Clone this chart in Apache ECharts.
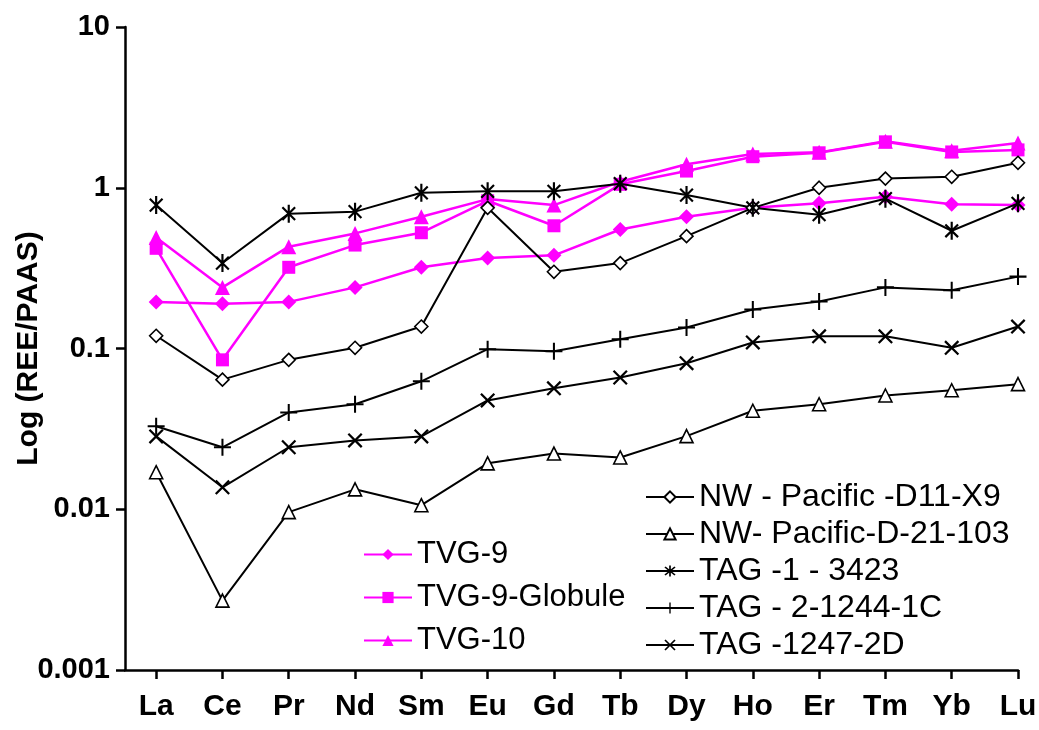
<!DOCTYPE html>
<html>
<head>
<meta charset="utf-8">
<script src="https://cdn.jsdelivr.net/npm/echarts@6/dist/echarts.min.js"></script>
<style>
html, body { margin: 0; padding: 0; background: #fff; }
#container { width: 1039px; height: 730px; }
</style>
</head>
<body>
<div id="container"></div>
<script>
// REE elements on the x axis
var elements = ['La', 'Ce', 'Pr', 'Nd', 'Sm', 'Eu', 'Gd', 'Tb', 'Dy', 'Ho', 'Er', 'Tm', 'Yb', 'Lu'];
var yTicks = [0.001, 0.01, 0.1, 1, 10];

// REE/PAAS values
var tvg9        = [0.195, 0.19, 0.195, 0.24, 0.32, 0.365, 0.38, 0.55, 0.66, 0.75, 0.80, 0.88, 0.79, 0.78];
var tvg9Globule = [0.42, 0.085, 0.32, 0.44, 0.525, 0.83, 0.58, 1.05, 1.27, 1.56, 1.65, 1.93, 1.67, 1.72];
var tvg10       = [0.49, 0.24, 0.43, 0.52, 0.66, 0.85, 0.78, 1.09, 1.40, 1.62, 1.66, 1.95, 1.70, 1.90];
var nwD11X9     = [0.12, 0.064, 0.085, 0.101, 0.137, 0.75, 0.30, 0.34, 0.50, 0.75, 1.0, 1.14, 1.17, 1.43];
var nwD21103    = [0.017, 0.0027, 0.0096, 0.0133, 0.0106, 0.0193, 0.0222, 0.021, 0.0285, 0.041, 0.045, 0.051, 0.055, 0.060];
var tag13423    = [0.78, 0.34, 0.69, 0.71, 0.93, 0.95, 0.95, 1.06, 0.90, 0.75, 0.68, 0.855, 0.54, 0.80];
var tag212441C  = [0.0328, 0.0243, 0.040, 0.045, 0.0625, 0.099, 0.096, 0.114, 0.135, 0.175, 0.196, 0.24, 0.23, 0.28];
var tag12472D   = [0.0284, 0.0137, 0.0243, 0.0268, 0.0284, 0.0475, 0.0565, 0.066, 0.081, 0.109, 0.119, 0.119, 0.101, 0.137];

var FONT = '"Liberation Sans", Arial, Helvetica, sans-serif';
var PINK = '#ff00ff';

// marker shapes drawn as filled bars
var plusPath = 'path://M-1.2,-10L1.2,-10L1.2,-1.2L10,-1.2L10,1.2L1.2,1.2L1.2,10L-1.2,10L-1.2,1.2L-10,1.2L-10,-1.2L-1.2,-1.2Z';
var crossPath = 'path://M6.22,7.92L7.92,6.22L-6.22,-7.92L-7.92,-6.22Z M-7.92,6.22L-6.22,7.92L7.92,-6.22L6.22,-7.92Z';
var starPath = 'path://M6.22,7.92L7.92,6.22L-6.22,-7.92L-7.92,-6.22Z M-7.92,6.22L-6.22,7.92L7.92,-6.22L6.22,-7.92Z M-1.2,10L1.2,10L1.2,-10L-1.2,-10Z';

function toPairs(arr) {
	var out = [];
	for (var i = 0; i < arr.length; i++) {
		out.push([i, arr[i]]);
	}
	return out;
}

function pinkSeries(name, values, symbol, size) {
	return {
		name: name,
		type: 'line',
		data: toPairs(values),
		symbol: symbol,
		symbolSize: size,
		itemStyle: { color: PINK },
		lineStyle: { color: PINK, width: 2.5 },
		z: 2
	};
}

function blackSeries(name, values, symbol, size, open) {
	return {
		name: name,
		type: 'line',
		data: toPairs(values),
		symbol: symbol,
		symbolSize: size,
		symbolKeepAspect: true,
		itemStyle: open ? { color: '#fff', borderColor: '#000', borderWidth: 1.6 } : { color: '#000' },
		lineStyle: { color: '#000', width: 2 },
		z: 3
	};
}

var tickIdx = [];
for (var i = 0; i < elements.length; i++) tickIdx.push(i);

var dom = document.getElementById('container');
var myChart = echarts.init(dom);

var option = {
	backgroundColor: '#fff',
	animation: false,
	textStyle: { fontFamily: FONT },
	grid: { left: 125, right: 21, top: 27, bottom: 60, containLabel: false, outerBoundsMode: 'none' },
	legend: [{
		data: ['TVG-9', 'TVG-9-Globule', 'TVG-10'],
		orient: 'vertical',
		left: 358,
		top: 534,
		itemWidth: 48,
		itemHeight: 14,
		itemGap: 12,
		selectedMode: false,
		textStyle: { fontSize: 31, lineHeight: 31, color: '#000', fontFamily: FONT }
	}, {
		data: ['NW - Pacific -D11-X9', 'NW- Pacific-D-21-103', 'TAG -1 - 3423', 'TAG - 2-1244-1C', 'TAG -1247-2D'],
		orient: 'vertical',
		left: 640,
		top: 476,
		itemWidth: 48,
		itemHeight: 14,
		itemGap: 5,
		selectedMode: false,
		textStyle: { fontSize: 32, lineHeight: 32, color: '#000', fontFamily: FONT }
	}],
	xAxis: {
		type: 'value',
		min: -0.47,
		max: elements.length - 1,
		splitLine: { show: false },
		axisLine: { onZero: false, lineStyle: { color: '#000', width: 2.5 } },
		axisTick: { customValues: tickIdx, length: 9, lineStyle: { color: '#000', width: 2.5 } },
		axisLabel: {
			customValues: tickIdx,
			margin: 22,
			fontSize: 30,
			fontWeight: 'bold',
			color: '#000',
			fontFamily: FONT,
			formatter: function (v) { return elements[Math.round(v)]; }
		}
	},
	yAxis: {
		type: 'log',
		logBase: 10,
		min: yTicks[0],
		max: yTicks[yTicks.length - 1],
		name: 'Log (REE/PAAS)',
		nameLocation: 'middle',
		nameGap: 81,
		nameMoveOverlap: false,
		nameTextStyle: { fontSize: 30, fontWeight: 'bold', color: '#000', fontFamily: FONT },
		splitLine: { show: false },
		axisLine: { show: true, onZero: false, lineStyle: { color: '#000', width: 2.5 } },
		axisTick: { length: 9, lineStyle: { color: '#000', width: 2.5 } },
		axisLabel: {
			margin: 15,
			fontSize: 29,
			fontWeight: 'bold',
			color: '#000',
			fontFamily: FONT,
			formatter: function (v) { return String(v); }
		}
	},
	series: [
		pinkSeries('TVG-9', tvg9, 'diamond', 15),
		pinkSeries('TVG-9-Globule', tvg9Globule, 'rect', 13),
		pinkSeries('TVG-10', tvg10, 'triangle', 15),
		blackSeries('NW - Pacific -D11-X9', nwD11X9, 'diamond', 13, true),
		blackSeries('NW- Pacific-D-21-103', nwD21103, 'triangle', 13, true),
		blackSeries('TAG -1 - 3423', tag13423, starPath, 18, false),
		blackSeries('TAG - 2-1244-1C', tag212441C, plusPath, 17, false),
		blackSeries('TAG -1247-2D', tag12472D, crossPath, 15, false)
	]
};

myChart.setOption(option);
</script>
</body>
</html>
